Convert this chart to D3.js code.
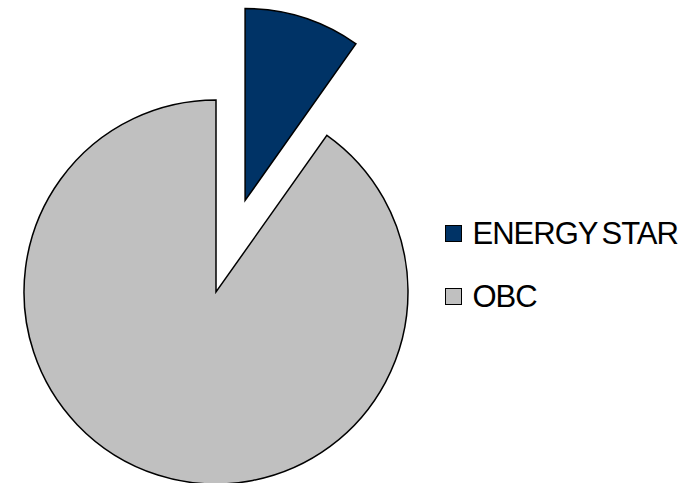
<!DOCTYPE html>
<html lang="en">
<head>
    <meta charset="UTF-8">
    <title>ENERGY STAR vs OBC</title>
    <script src="https://d3js.org/d3.v7.min.js"></script>
    <style>
        body { margin: 0; background: #fff; }
        svg { display: block; }
    </style>
</head>
<body>
    <svg width="696" height="483"></svg>

    <script>
        // Shares (percent)
        const categories = ["ENERGY STAR", "OBC"];
        const shares = [9.8, 90.2];
        const colors = ["#003366", "#C0C0C0"];
        const exploded = [true, false];

        const svg = d3.select("svg");
        const cx = 216, cy = 292;
        const radius = 192;
        const explodeBy = 96;

        const data = categories.map((name, i) => ({ name, value: shares[i], color: colors[i], out: exploded[i] }));

        const pie = d3.pie().sort(null).value(d => d.value);
        const arc = d3.arc().innerRadius(0).outerRadius(radius);

        const g = svg.append("g").attr("transform", `translate(${cx},${cy})`);

        g.selectAll("path")
            .data(pie(data))
            .join("path")
            .attr("d", arc)
            .attr("fill", d => d.data.color)
            .attr("stroke", "#000")
            .attr("stroke-width", 1.5)
            .attr("stroke-linejoin", "miter")
            .attr("transform", d => {
                if (!d.data.out) return null;
                const mid = (d.startAngle + d.endAngle) / 2;
                return `translate(${Math.sin(mid) * explodeBy},${-Math.cos(mid) * explodeBy})`;
            });

        // Legend
        const legend = svg.append("g").attr("transform", "translate(445.5,225.5)");
        const row = legend.selectAll("g")
            .data(data)
            .join("g")
            .attr("transform", (d, i) => `translate(0,${i * 63})`);

        row.append("rect")
            .attr("width", 16)
            .attr("height", 16)
            .attr("fill", d => d.color)
            .attr("stroke", "#000")
            .attr("stroke-width", 1);

        row.append("text")
            .attr("x", 27)
            .attr("y", 18.5)
            .text(d => d.name)
            .style("font-family", "'Liberation Sans', Arial, sans-serif")
            .style("font-size", "31px")
            .style("letter-spacing", "-1px")
            .style("word-spacing", "-3px")
            .style("fill", "#000");
    </script>
</body>
</html>
